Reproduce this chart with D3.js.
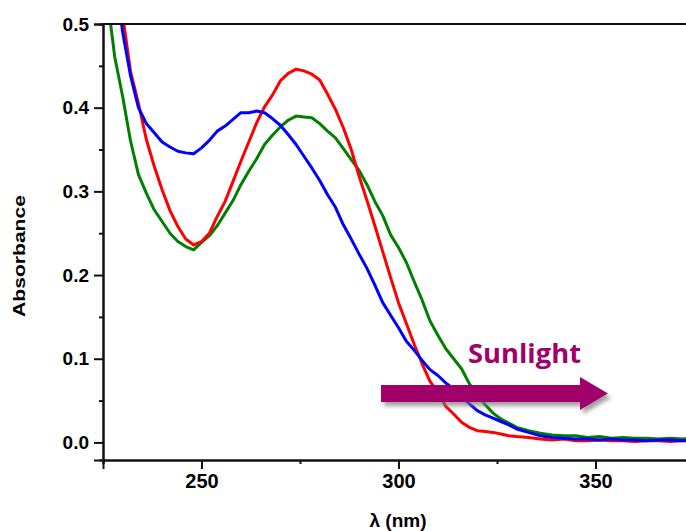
<!DOCTYPE html>
<html lang="en">
<head>
  <title>Absorbance spectra</title>
  <!-- This loads the D3 library -->
  <script src="https://d3js.org/d3.v7.min.js"></script>
  <style>
    body { margin: 0; background: white; }
    svg text { font-family: "Liberation Sans", Arial, sans-serif; font-weight: bold; fill: black; }
  </style>
</head>
<body>
<div id="chart"></div>
<script>
// ============= data =========
var wavelength = [225, 226, 228, 230, 232, 234, 236, 238, 240, 242, 244, 246, 248, 250,
  252, 254, 256, 258, 260, 262, 264, 266, 268, 270, 272, 274, 276, 278, 280,
  282, 284, 286, 288, 290, 292, 294, 296, 298, 300, 302, 304, 306, 308, 310,
  312, 314, 316, 318, 320, 322, 324, 326, 328, 330, 333, 336, 339, 342, 345,
  348, 351, 354, 357, 360, 363, 366, 369, 372, 375];

var redSeries = [0.66, 0.63, 0.57, 0.51, 0.443, 0.405, 0.362, 0.330, 0.302, 0.277, 0.258, 0.243, 0.236, 0.240,
  0.250, 0.270, 0.288, 0.312, 0.336, 0.359, 0.382, 0.401, 0.415, 0.432, 0.441, 0.446, 0.444, 0.440, 0.433,
  0.416, 0.398, 0.376, 0.350, 0.318, 0.289, 0.259, 0.228, 0.197, 0.167, 0.142, 0.117, 0.094, 0.073, 0.060,
  0.043, 0.034, 0.024, 0.018, 0.014, 0.013, 0.012, 0.010, 0.008, 0.007, 0.006, 0.004, 0.003, 0.004, 0.002,
  0.002, 0.003, 0.002, 0.002, 0.001, 0.002, 0.002, 0.001, 0.002, 0.002];

var blueSeries = [0.68, 0.64, 0.56, 0.49, 0.438, 0.400, 0.381, 0.370, 0.359, 0.353, 0.348, 0.346, 0.345, 0.352,
  0.361, 0.372, 0.378, 0.386, 0.394, 0.394, 0.396, 0.394, 0.387, 0.379, 0.368, 0.356, 0.342, 0.328, 0.313,
  0.296, 0.281, 0.260, 0.243, 0.225, 0.208, 0.188, 0.167, 0.152, 0.137, 0.121, 0.110, 0.098, 0.087, 0.080,
  0.071, 0.064, 0.055, 0.046, 0.038, 0.033, 0.029, 0.025, 0.021, 0.016, 0.012, 0.008, 0.006, 0.005, 0.004,
  0.004, 0.003, 0.004, 0.003, 0.003, 0.002, 0.003, 0.003, 0.002, 0.003];

var greenSeries = [0.56, 0.535, 0.460, 0.413, 0.360, 0.320, 0.298, 0.278, 0.264, 0.250, 0.240, 0.234, 0.230, 0.239,
  0.247, 0.259, 0.274, 0.289, 0.308, 0.324, 0.339, 0.356, 0.367, 0.377, 0.385, 0.390, 0.389, 0.388, 0.381,
  0.372, 0.364, 0.351, 0.338, 0.325, 0.308, 0.288, 0.271, 0.248, 0.233, 0.215, 0.192, 0.170, 0.145, 0.128,
  0.112, 0.100, 0.088, 0.070, 0.057, 0.045, 0.035, 0.028, 0.023, 0.018, 0.014, 0.011, 0.009, 0.008, 0.008,
  0.006, 0.007, 0.005, 0.006, 0.005, 0.005, 0.004, 0.005, 0.004, 0.005];

var seriesColors = ["#ff0000", "#0000ff", "#008000"];
var xMajorTicks = [250, 300, 350];
var xMinorTicks = [225, 275, 325, 375];
var yMajorTicks = [0.0, 0.1, 0.2, 0.3, 0.4, 0.5];
var yMinorTicks = [0.05, 0.15, 0.25, 0.35, 0.45];
var annotationText = "Sunlight";

// ============= chart =========
var width = 686;
var height = 531;
var plotLeft = 103, plotTop = 24, plotRight = 694, plotBottom = 460;

var svg = d3.select("#chart")
  .append("svg")
  .attr("width", width)
  .attr("height", height)
  .style("display", "block");

var x = d3.scaleLinear().domain([225, 375]).range([plotLeft, plotRight]);
var y = d3.scaleLinear().domain([-0.021, 0.5]).range([plotBottom, plotTop]);

// drop shadow for the arrow
var defs = svg.append("defs");
defs.append("filter")
  .attr("id", "shadow")
  .attr("x", "-20%").attr("y", "-50%").attr("width", "140%").attr("height", "200%")
  .append("feDropShadow")
  .attr("dx", 3).attr("dy", 4)
  .attr("stdDeviation", 2)
  .attr("flood-color", "#777")
  .attr("flood-opacity", 0.7);

defs.append("clipPath")
  .attr("id", "plotclip")
  .append("rect")
  .attr("x", plotLeft).attr("y", plotTop)
  .attr("width", plotRight - plotLeft).attr("height", plotBottom - plotTop);

// the curves
var line = d3.line()
  .x(function(d) { return x(d[0]); })
  .y(function(d) { return y(d[1]); });

var allSeries = [redSeries, blueSeries, greenSeries];
var curves = svg.append("g").attr("clip-path", "url(#plotclip)");
// draw green first, then red, then blue on top
[2, 0, 1].forEach(function(i) {
  curves.append("path")
    .datum(wavelength.map(function(w, k) { return [w, allSeries[i][k]]; }))
    .attr("fill", "none")
    .attr("stroke", seriesColors[i])
    .attr("stroke-width", 3)
    .attr("stroke-linejoin", "round")
    .attr("d", line);
});

// axes
var xAxis = d3.axisBottom(x).tickValues(xMajorTicks).tickSize(9).tickPadding(5).tickFormat(d3.format("d"));
var xAxisMinor = d3.axisBottom(x).tickValues(xMinorTicks).tickSize(4).tickFormat("");
var yAxis = d3.axisLeft(y).tickValues(yMajorTicks).tickSize(9).tickPadding(5).tickFormat(d3.format(".1f"));
var yAxisMinor = d3.axisLeft(y).tickValues(yMinorTicks).tickSize(4).tickFormat("");

var gx = svg.append("g").attr("transform", "translate(0," + plotBottom + ")").call(xAxis);
svg.append("g").attr("transform", "translate(0," + plotBottom + ")").call(xAxisMinor);
var gy = svg.append("g").attr("transform", "translate(" + plotLeft + ",0)").call(yAxis);
svg.append("g").attr("transform", "translate(" + plotLeft + ",0)").call(yAxisMinor);

svg.selectAll(".domain").attr("stroke", "#111").attr("stroke-width", 2);
svg.selectAll(".tick line").attr("stroke", "#111").attr("stroke-width", 2);
gx.selectAll("text").style("font-size", "20px").attr("fill", "#111");
gy.selectAll("text").style("font-size", "19px").attr("fill", "#111");

// top frame line
svg.append("line")
  .attr("x1", plotLeft).attr("x2", plotRight)
  .attr("y1", plotTop).attr("y2", plotTop)
  .attr("stroke", "#111").attr("stroke-width", 2);

// axis titles
svg.append("text")
  .attr("x", 398).attr("y", 527)
  .attr("text-anchor", "middle")
  .style("font-size", "19px")
  .text("\u03bb (nm)");

svg.append("text")
  .attr("transform", "translate(25,256) rotate(-90)")
  .attr("text-anchor", "middle")
  .attr("textLength", 122)
  .attr("lengthAdjust", "spacingAndGlyphs")
  .style("font-size", "17px")
  .text("Absorbance");

// sunlight arrow
var arrow = d3.path();
arrow.moveTo(381, 385);
arrow.lineTo(580, 385);
arrow.lineTo(580, 377);
arrow.lineTo(608, 393.5);
arrow.lineTo(580, 410);
arrow.lineTo(580, 402);
arrow.lineTo(381, 402);
arrow.closePath();

svg.append("path")
  .attr("d", arrow.toString())
  .attr("fill", "#a1006b")
  .attr("filter", "url(#shadow)");

svg.append("text")
  .attr("x", 468).attr("y", 363)
  .attr("textLength", 113)
  .attr("lengthAdjust", "spacingAndGlyphs")
  .style("font-family", "'Open Sans', sans-serif")
  .style("font-size", "27px")
  .style("font-weight", "bold")
  .style("fill", "#a1006b")
  .text(annotationText);
</script>
</body>
</html>
